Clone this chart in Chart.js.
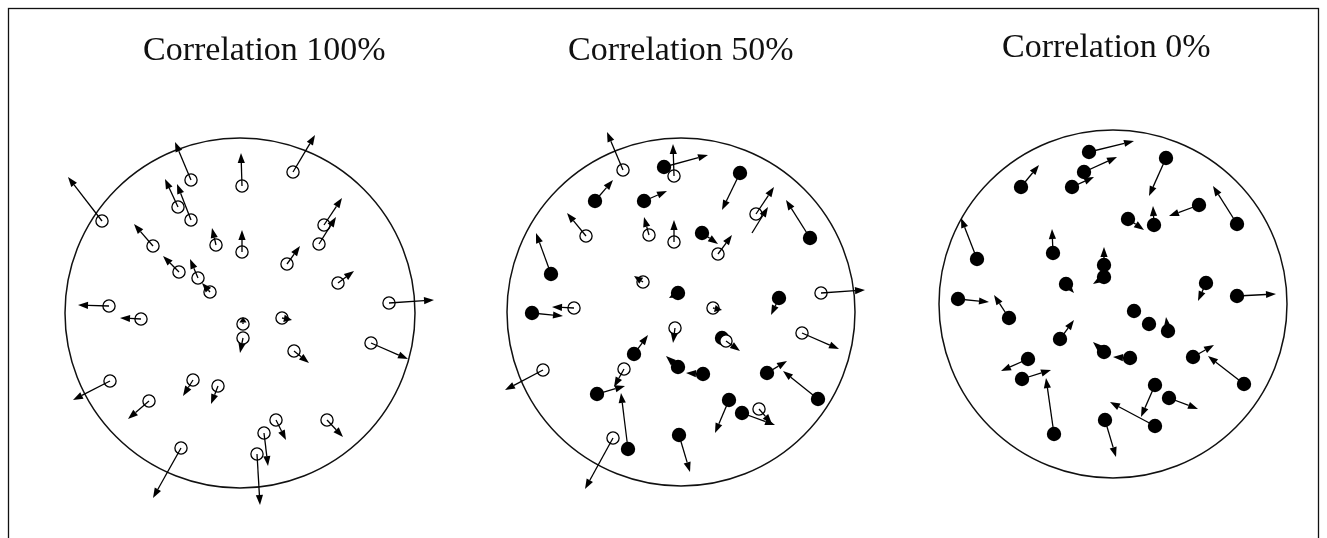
<!DOCTYPE html>
<html><head><meta charset="utf-8">
<script src="https://cdn.jsdelivr.net/npm/chart.js@4.4.1/dist/chart.umd.min.js"></script>
<style>html,body{margin:0;padding:0;background:#fff}#wrap{width:1327px;height:538px;position:relative}</style>
</head><body><div id="wrap"><canvas id="c" width="1327" height="538"></canvas></div>
<script>
// Panel titles
const titles = ["Correlation 100%", "Correlation 50%", "Correlation 0%"];
const titleX = [143, 568, 1002];
const titleY = [60, 60, 57];
// Region circles (center and radius, in figure units)
const ringX = [240, 681, 1113];
const ringY = [313, 312, 304];
const ringR = [175, 174, 174];

// Panel 1 (correlation 100%) : positions, velocity vectors, kind (0 open, 1 filled, -1 none)
const p1X  = [191,242,102,178,191,216,242,153,179,198,210,109,141,243,243,110,193,218,149,181,282,294,371,276,264,257,327,293,324,319,287,338,389];
const p1Y  = [180,186,221,207,220,245,252,246,272,278,292,306,319,324,338,381,380,386,401,448,318,351,343,420,433,454,420,172,225,244,264,283,303];
const p1VX = [-16,-1,-34,-13,-14,-4,0,-19,-16,-8,-8,-31,-21,0,-3,-37,-10,-7,-21,-28,10,15,37,10,4,3,16,22,18,17,13,16,45];
const p1VY = [-38,-33,-44,-28,-36,-17,-22,-22,-16,-19,-9,-1,-1,-7,15,19,16,18,18,50,2,12,16,20,33,51,17,-37,-27,-27,-18,-12,-3];
const p1K  = p1X.map(() => 0);

// Panel 2 (correlation 50%)
const p2X  = [623,664,674,595,644,586,649,674,551,643,678,532,574,740,756,752,702,718,810,821,779,713,722,726,802,703,767,818,729,742,759,679,675,634,624,597,678,543,628,613];
const p2Y  = [170,167,176,201,201,236,235,242,274,282,293,313,308,173,214,233,233,254,238,293,298,308,338,341,333,374,373,399,400,413,409,435,328,354,369,394,367,370,449,438];
const p2VX = [-16,44,-1,18,23,-19,-5,0,-15,-9,-9,31,-22,-18,18,16,16,14,-24,44,-8,9,0,14,37,-17,20,-35,-14,33,13,11,-2,14,-10,28,-12,-38,-7,-28];
const p2VY = [-38,-12,-32,-21,-10,-23,-18,-22,-41,-6,5,3,-1,37,-27,-26,11,-19,-38,-3,17,2,0,10,16,-1,-12,-28,33,12,15,37,15,-19,18,-8,-11,20,-56,51];
const p2K  = [0,1,0,1,1,0,0,0,1,0,1,1,0,1,0,-1,1,0,1,0,1,0,1,0,0,1,1,1,1,1,0,1,0,1,0,1,1,0,1,0];

// Panel 3 (correlation 0%)
const p3X  = [1089,1084,1072,1021,977,1053,1104,1104,1066,1128,958,1009,1134,1166,1154,1199,1237,1206,1237,1060,1104,1130,1028,1022,1054,1105,1155,1149,1168,1193,1244,1155,1169];
const p3Y  = [152,172,187,187,259,253,265,277,284,219,299,318,311,158,225,205,224,283,296,339,352,358,359,379,434,420,426,324,331,357,384,385,398];
const p3VX = [45,33,22,18,-16,-1,0,-11,8,16,31,-15,0,-17,-1,-30,-24,-8,39,14,-11,-17,-27,29,-8,11,-45,0,-2,21,-36,-14,29];
const p3VY = [-11,-15,-10,-22,-41,-24,-18,7,9,11,3,-23,0,38,-19,11,-38,18,-2,-19,-10,-1,12,-9,-56,37,-24,0,-14,-12,-28,32,11];
const p3K  = p3X.map(() => 1);

const panels = [
  {x:p1X, y:p1Y, vx:p1VX, vy:p1VY, k:p1K},
  {x:p2X, y:p2Y, vx:p2VX, vy:p2VY, k:p2K},
  {x:p3X, y:p3Y, vx:p3VX, vy:p3VY, k:p3K}
];

function pts(kind) {
  const out = [];
  panels.forEach(p => p.x.forEach((v, i) => { if (p.k[i] === kind) out.push({x: v, y: p.y[i]}); }));
  return out;
}

const figurePlugin = {
  id: 'figure',
  beforeDatasetsDraw(chart) {
    const {ctx, scales: {x, y}} = chart;
    ctx.save();
    ctx.strokeStyle = '#111';
    ctx.lineWidth = 1.3;
    // frame
    ctx.strokeRect(x.getPixelForValue(8.5), y.getPixelForValue(8.5),
      x.getPixelForValue(1318.5) - x.getPixelForValue(8.5), y.getPixelForValue(560) - y.getPixelForValue(8.5));
    // rings
    ctx.lineWidth = 1.5;
    for (let i = 0; i < ringX.length; i++) {
      const cx = x.getPixelForValue(ringX[i]), cy = y.getPixelForValue(ringY[i]);
      const rx = Math.abs(x.getPixelForValue(ringX[i] + ringR[i]) - cx);
      const ry = Math.abs(y.getPixelForValue(ringY[i] + ringR[i]) - cy);
      ctx.beginPath();
      ctx.ellipse(cx, cy, rx, ry, 0, 0, Math.PI * 2);
      ctx.stroke();
    }
    ctx.restore();
  },
  afterDatasetsDraw(chart) {
    const {ctx, scales: {x, y}} = chart;
    ctx.save();
    ctx.strokeStyle = '#000';
    ctx.fillStyle = '#000';
    ctx.lineWidth = 1.3;
    const HL = 10, HW = 3.6;
    panels.forEach(p => p.x.forEach((v, i) => {
      if (p.vx[i] === 0 && p.vy[i] === 0) return;
      const x0 = x.getPixelForValue(v), y0 = y.getPixelForValue(p.y[i]);
      const x1 = x.getPixelForValue(v + p.vx[i]), y1 = y.getPixelForValue(p.y[i] + p.vy[i]);
      const dx = x1 - x0, dy = y1 - y0, L = Math.hypot(dx, dy);
      const ux = dx / L, uy = dy / L;
      const hl = Math.min(HL, L * 0.8);
      const bx = x1 - ux * hl, by = y1 - uy * hl;
      ctx.beginPath();
      ctx.moveTo(x0, y0);
      ctx.lineTo(bx, by);
      ctx.stroke();
      ctx.beginPath();
      ctx.moveTo(x1, y1);
      ctx.lineTo(bx - uy * HW, by + ux * HW);
      ctx.lineTo(bx + uy * HW, by - ux * HW);
      ctx.closePath();
      ctx.fill();
    }));
    ctx.restore();
  },
  afterDraw(chart) {
    const {ctx, scales: {x, y}} = chart;
    ctx.save();
    ctx.fillStyle = '#111';
    ctx.font = '34px "Liberation Serif", "DejaVu Serif", serif';
    ctx.textAlign = 'left';
    ctx.textBaseline = 'alphabetic';
    titles.forEach((t, i) => ctx.fillText(t, x.getPixelForValue(titleX[i]), y.getPixelForValue(titleY[i])));
    ctx.restore();
  }
};

new Chart(document.getElementById('c'), {
  type: 'scatter',
  data: {
    datasets: [
      {label: 'open', data: pts(0), pointRadius: 6.1, pointHoverRadius: 6.1, pointBackgroundColor: '#fff', pointBorderColor: '#000', pointBorderWidth: 1.3},
      {label: 'filled', data: pts(1), pointRadius: 7.2, pointHoverRadius: 7.2, pointBackgroundColor: '#000', pointBorderColor: '#000', pointBorderWidth: 0}
    ]
  },
  options: {
    responsive: false,
    animation: false,
    events: [],
    layout: {padding: 0, autoPadding: false},
    plugins: {legend: {display: false}, tooltip: {enabled: false}, title: {display: false}},
    scales: {
      x: {type: 'linear', min: 0, max: 1327, display: false},
      y: {type: 'linear', min: 0, max: 538, reverse: true, display: false}
    }
  },
  plugins: [figurePlugin]
});
</script>
</body></html>
